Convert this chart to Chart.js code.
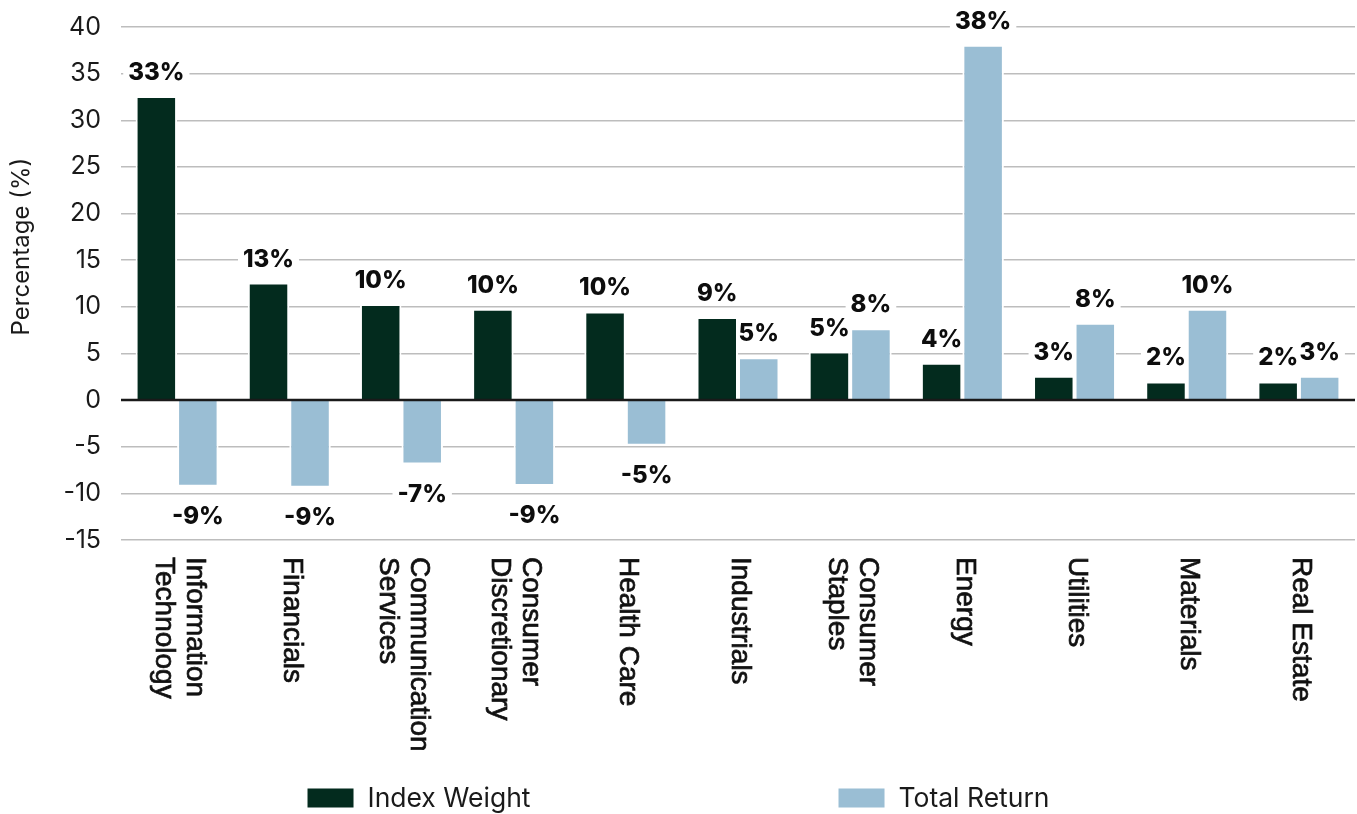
<!DOCTYPE html>
<html><head><meta charset="utf-8">
<script src="https://cdn.jsdelivr.net/npm/chart.js@4"></script>
<style>html,body{margin:0;padding:0;background:#fff}#wrap{width:1357px;height:814px}</style>
</head><body><div id="wrap"><canvas id="c" width="1357" height="814"></canvas></div>
<script>
const categories = [["Information","Technology"],["Financials"],["Communication","Services"],["Consumer","Discretionary"],["Health Care"],["Industrials"],["Consumer","Staples"],["Energy"],["Utilities"],["Materials"],["Real Estate"]];
const indexWeight = [32.6, 12.6, 10.3, 9.8, 9.5, 8.9, 5.2, 4.0, 2.6, 2.0, 2.0];
const totalReturn = [-9.3, -9.4, -6.9, -9.2, -4.9, 4.6, 7.7, 38.1, 8.3, 9.8, 2.6];
const seriesNames = ["Index Weight", "Total Return"];
const seriesColors = ["#032b1e", "#9abed4"];
const yMin = -15, yMax = 40, yStep = 5;
const axisTitle = "Percentage (%)";

const labelFont = '800 24px Inter';
const catFont = '28px "Liberation Sans"';

const customDraw = {
  id: 'customDraw',
  beforeDatasetsDraw(chart) {
    const ctx = chart.ctx;
    ctx.save();
    ctx.font = labelFont;
    chart.data.datasets.forEach((ds, di) => {
      const meta = chart.getDatasetMeta(di);
      meta.data.forEach((el, i) => {
        const v = ds.data[i];
        const txt = Math.round(v) + '%';
        const base = v >= 0 ? el.y - 16 : el.y + 37.5;
        const w = ctx.measureText(txt).width;
        ctx.fillStyle = '#fff';
        ctx.fillRect(el.x - w / 2 - 5, base - 21, w + 10, 25);
      });
    });
    ctx.restore();
  },
  afterDatasetsDraw(chart) {
    const { ctx, chartArea: a, scales: { x, y } } = chart;
    ctx.save();
    const y0 = y.getPixelForValue(0);
    ctx.strokeStyle = '#1a1a1a';
    ctx.lineWidth = 2.5;
    ctx.beginPath(); ctx.moveTo(a.left, y0); ctx.lineTo(a.right, y0); ctx.stroke();

    ctx.font = labelFont;
    ctx.textAlign = 'center';
    ctx.textBaseline = 'alphabetic';
    ctx.fillStyle = '#0d0d0d';
    chart.data.datasets.forEach((ds, di) => {
      const meta = chart.getDatasetMeta(di);
      meta.data.forEach((el, i) => {
        const v = ds.data[i];
        const txt = Math.round(v) + '%';
        const base = v >= 0 ? el.y - 16 : el.y + 37.5;
        ctx.fillText(txt, el.x, base);
      });
    });
    ctx.restore();
  },
  afterDraw(chart) {
    const { ctx, chartArea: a, scales: { x } } = chart;
    ctx.save();
    ctx.font = catFont;
    ctx.fillStyle = '#111';
    ctx.strokeStyle = '#111';
    ctx.lineWidth = 0.7;
    ctx.textAlign = 'left';
    ctx.textBaseline = 'middle';
    const pitch = 31;
    chart.data.labels.forEach((lab, i) => {
      const cx = x.getPixelForTick(i);
      const lines = Array.isArray(lab) ? lab : [lab];
      lines.forEach((ln, j) => {
        const off = (j - (lines.length - 1) / 2) * pitch;
        ctx.save();
        ctx.translate(cx - off + 2, a.bottom + 17);
        ctx.rotate(Math.PI / 2);
        ctx.fillText(ln, 0, 0);
        ctx.strokeText(ln, 0, 0);
        ctx.restore();
      });
    });

    ctx.font = '24px Inter';
    ctx.fillStyle = '#1a1a1a';
    ctx.textAlign = 'center';
    ctx.textBaseline = 'middle';
    ctx.save();
    ctx.translate(22, a.top + (a.bottom - a.top) * 0.428);
    ctx.rotate(-Math.PI / 2);
    ctx.fillText(axisTitle, 0, 0);
    ctx.restore();

    ctx.font = '26.5px Inter';
    ctx.textAlign = 'left';
    ctx.textBaseline = 'middle';
    const items = chart.data.datasets.map(ds => ({ label: ds.label, color: ds.backgroundColor }));
    const boxW = 46, boxH = 19, gapText = 14, gapItem = 308;
    const widths = items.map(it => boxW + gapText + ctx.measureText(it.label).width);
    const total = widths.reduce((s, w) => s + w, 0) + gapItem * (items.length - 1);
    let lx = (chart.width - total) / 2;
    const ly = chart.height - 16;
    items.forEach((it, k) => {
      ctx.fillStyle = it.color;
      ctx.fillRect(lx, ly - boxH / 2, boxW, boxH);
      ctx.fillStyle = '#1a1a1a';
      ctx.fillText(it.label, lx + boxW + gapText, ly + 1);
      lx += widths[k] + gapItem;
    });
    ctx.restore();
  }
};

function make() {
  Chart.defaults.font.family = 'Inter';
  new Chart(document.getElementById('c'), {
    type: 'bar',
    data: {
      labels: categories,
      datasets: [
        { label: seriesNames[0], data: indexWeight, backgroundColor: seriesColors[0], borderColor: '#ffffff', borderWidth: 2, borderSkipped: 'start', categoryPercentage: 0.74, barPercentage: 1.0 },
        { label: seriesNames[1], data: totalReturn, backgroundColor: seriesColors[1], borderColor: '#ffffff', borderWidth: 2, borderSkipped: 'start', categoryPercentage: 0.74, barPercentage: 1.0 }
      ]
    },
    options: {
      responsive: false,
      animation: false,
      devicePixelRatio: 1,
      layout: { padding: { top: 27, right: 2, left: 0, bottom: 0 } },
      plugins: { legend: { display: false }, tooltip: { enabled: false } },
      scales: {
        x: {
          grid: { display: false },
          border: { display: false },
          ticks: { display: false },
          afterFit: s => { s.height = 274; s.paddingTop = 0; s.paddingBottom = 0; }
        },
        y: {
          min: yMin, max: yMax,
          ticks: { stepSize: yStep, font: { size: 25, family: 'Inter' }, color: '#1a1a1a', padding: 20 },
          grid: { drawTicks: false, lineWidth: 1.5, color: c => (c.tick && c.tick.value === 0) ? 'rgba(0,0,0,0)' : '#bdbdbd' },
          border: { display: false },
          afterFit: s => { s.width = 121; s.paddingTop = 0; s.paddingBottom = 0; }
        }
      }
    },
    plugins: [customDraw]
  });
}
Promise.all([
  document.fonts.load('24px Inter'),
  document.fonts.load('800 24px Inter'),
  document.fonts.load('28px "Liberation Sans"')
]).then(make, make);
</script>
</body></html>
